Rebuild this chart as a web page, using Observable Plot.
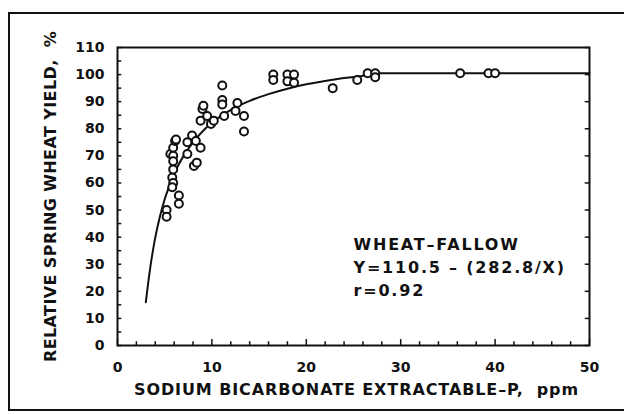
<!DOCTYPE html>
<html>
<head>
<meta charset="utf-8">
<script src="https://cdn.jsdelivr.net/npm/d3@7"></script>
<script src="https://cdn.jsdelivr.net/npm/@observablehq/plot@0.6"></script>
<style>
  html, body { margin: 0; padding: 0; background: #fff; }
  #wrap { position: relative; width: 624px; height: 414px; overflow: hidden; }
  #box { position: absolute; left: 8px; top: 12px; width: 640px; height: 399px; border: 2.5px solid #111; box-sizing: border-box; }
  #chart { position: absolute; left: 0; top: 0; }
  .xt, .xt text { letter-spacing: 0.9px; }
  .yt, .yt text { letter-spacing: 0.4px; }
  .ann, .ann text { letter-spacing: 1.8px; }
</style>
</head>
<body>
<div id="wrap"><div id="box"></div><div id="chart"></div></div>
<script>
// Observed points: soil test P (ppm) and relative yield (%)
const pointX = [5.2, 5.2, 5.8, 5.9, 5.8, 6.5, 6.5, 5.6, 5.9, 5.9, 5.9, 5.9, 6.1, 6.2,
                7.4, 7.4, 7.9, 8.3, 8.8, 8.1, 8.4,
                9.0, 9.1, 8.8, 9.5, 9.9, 10.2,
                11.1, 11.1, 11.1, 11.3, 12.7, 12.5, 13.4, 13.4,
                16.5, 16.5, 18.0, 18.0, 18.7, 18.7, 22.8, 25.4, 26.5, 27.3, 27.3, 36.3, 39.3, 40.0];
const pointY = [50, 47.5, 62, 60, 58.4, 55.4, 52.3, 70.7, 73, 70, 68, 65, 75.5, 76,
                75, 70.7, 77.5, 75.5, 73, 66.3, 67.5,
                87.3, 88.5, 83, 84.7, 81.8, 83,
                96, 90.6, 89, 84.7, 89.5, 86.6, 84.7, 79,
                100, 98, 100, 97.5, 100, 97, 95, 98, 100.5, 100.5, 99, 100.5, 100.5, 100.5];
// Fitted curve
const curveX = [3, 3.5, 4, 4.5, 5, 5.5, 6, 7, 8, 9, 10, 12, 14, 16, 18, 20, 22, 24, 26, 27, 30, 35, 40, 45, 50];
const curveY = [16, 29.5, 39.8, 47.7, 54, 59, 63.4, 70, 75, 79, 82.2, 87, 90.3, 92.8, 94.8, 96.4, 97.6, 98.7, 99.6, 100.5, 100.5, 100.5, 100.5, 100.5, 100.5];
// Axis ticks and texts
const xTickLabels = [0, 10, 20, 30, 40, 50];
const xMinorTicks = d3.range(0, 51, 2);
const yTickLabels = [0, 10, 20, 30, 40, 50, 60, 70, 80, 90, 100, 110];
const yMinorTicks = d3.range(0, 111, 5);
const xTitle = "SODIUM BICARBONATE EXTRACTABLE\u2013P,  ppm";
const yTitle = "RELATIVE SPRING WHEAT YIELD,  %";
const annotation = "WHEAT\u2013FALLOW\nY=110.5 \u2013 (282.8/X)\nr=0.92";

const points = pointX.map((x, i) => ({x, y: pointY[i]}));
const curve = curveX.map((x, i) => ({x, y: curveY[i]}));

const font = "DejaVu Sans, sans-serif";
const chart = Plot.plot({
  width: 624,
  height: 414,
  marginLeft: 117,
  marginRight: 35,
  marginTop: 47,
  marginBottom: 69,
  style: {fontFamily: font, fontSize: "15px", fontWeight: "bold", color: "#111", background: "transparent"},
  x: {domain: [0, 50]},
  y: {domain: [0, 110]},
  marks: [
    Plot.axisX(xTickLabels, {tickSize: 0, tickPadding: 17, fontSize: 14, label: null}),
    Plot.axisY(yTickLabels, {tickSize: 0, tickPadding: 13, fontSize: 14, label: null}),
    Plot.text([xTitle], {frameAnchor: "bottom", lineAnchor: "middle", textAnchor: "middle", dy: 44, dx: 3, text: d => d, fontSize: 16, fill: "#111", className: "xt"}),
    Plot.text([yTitle], {frameAnchor: "left", lineAnchor: "middle", textAnchor: "middle", dx: -67, dy: 0, rotate: -90, text: d => d, fontSize: 16, fill: "#111", className: "yt"}),
    // inward ticks on bottom axis
    Plot.ruleX(xMinorTicks, {x: d => d, y1: 0, y2: d => d % 10 === 0 ? 2.2 : 1.4, stroke: "#111", strokeWidth: 1.5}),
    // inward ticks on left axis
    Plot.ruleY(yMinorTicks, {y: d => d, x1: 0, x2: 0.45, stroke: "#111", strokeWidth: 1.5}),
    // inward ticks on right axis
    Plot.ruleY(yTickLabels, {y: d => d, x1: 49.55, x2: 50, stroke: "#111", strokeWidth: 1.5}),
    Plot.frame({stroke: "#111", strokeWidth: 2}),
    Plot.line(curve, {x: "x", y: "y", curve: "monotone-x", stroke: "#111", strokeWidth: 2}),
    Plot.dot(points, {x: "x", y: "y", r: 4, stroke: "#111", strokeWidth: 2, fill: "white"}),
    Plot.text([annotation], {x: 25, y: 41.5, text: d => d, textAnchor: "start", lineAnchor: "top", lineHeight: 1.45, fontSize: 16, fill: "#111", className: "ann"})
  ]
});
document.getElementById("chart").appendChild(chart);
</script>
</body>
</html>
